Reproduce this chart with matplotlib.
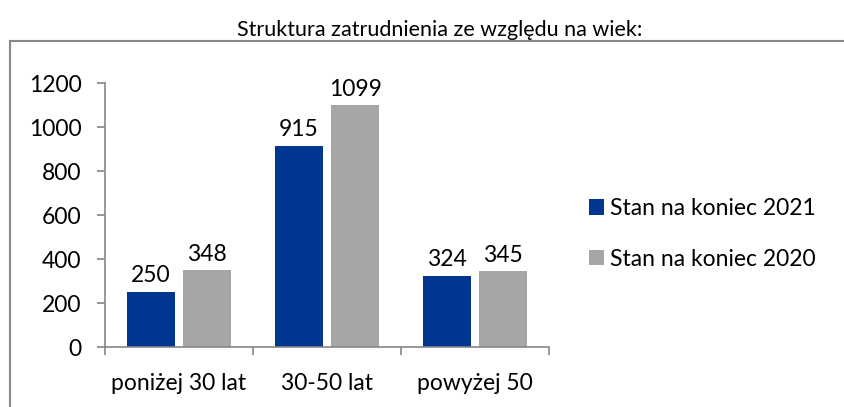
import numpy as np
import matplotlib.pyplot as plt
from matplotlib.lines import Line2D

plt.rcParams['font.family'] = ['Lato', 'DejaVu Sans']

# Data
categories = ['poniżej 30 lat', '30-50 lat', 'powyżej 50']
stan_2021 = [250, 915, 324]
stan_2020 = [348, 1099, 345]
series_labels = ['Stan na koniec 2021', 'Stan na koniec 2020']

blue = '#003591'
grey = '#A6A6A6'

fig = plt.figure(figsize=(8.45, 4.07), dpi=100)
ax = fig.add_axes([105 / 845, 1 - 347 / 407, 444 / 845, 264 / 407])

x = np.arange(len(categories))
w = 0.32
b1 = ax.bar(x - 0.19, stan_2021, w, color=blue, label=series_labels[0])
b2 = ax.bar(x + 0.19, stan_2020, w, color=grey, label=series_labels[1])

for bars in (b1, b2):
    for rect in bars:
        ax.annotate(str(int(rect.get_height())),
                    (rect.get_x() + rect.get_width() / 2, rect.get_height()),
                    xytext=(0, 4), textcoords='offset points',
                    ha='center', va='bottom', fontsize=16.5)

ax.set_xlim(-0.5, 2.5)
ax.set_ylim(0, 1200)
ax.set_yticks(range(0, 1201, 200))
ax.set_xticks(x)
ax.set_xticklabels(categories)
ax.set_xticks([-0.5, 0.5, 1.5, 2.5], minor=True)

# Turn off top/right axes
ax.spines['top'].set_visible(False)
ax.spines['right'].set_visible(False)
for s in ('left', 'bottom'):
    ax.spines[s].set_color('#868686')
    ax.spines[s].set_linewidth(1.2)

ax.tick_params(axis='y', direction='out', length=6, width=1.2, color='#868686',
               labelsize=16.5, pad=11)
ax.tick_params(axis='x', which='major', length=0, labelsize=16.5, pad=19)
ax.tick_params(axis='x', which='minor', direction='out', length=6, width=1.2,
               color='#868686')

fig.text(440 / 845, 1 - 30 / 407, 'Struktura zatrudnienia ze względu na wiek:',
         ha='center', va='center', fontsize=15.5)

leg = fig.legend(handles=[b1, b2], labels=series_labels, loc='center left',
                 bbox_to_anchor=(568 / 845, 1 - 234 / 407), frameon=False,
                 fontsize=16.5, handlelength=0.65, handleheight=0.65,
                 handletextpad=0.3, labelspacing=1.3)

# outer chart frame: only its left and top edges fall inside the picture
fx, fy = 10 / 845, 1 - 41 / 407
fig.add_artist(Line2D([fx, fx], [0.0, fy], transform=fig.transFigure,
                      color='#888888', linewidth=1.5))
fig.add_artist(Line2D([fx, 0.999], [fy, fy], transform=fig.transFigure,
                      color='#888888', linewidth=1.5))

fig.savefig('out.png', dpi=100)
